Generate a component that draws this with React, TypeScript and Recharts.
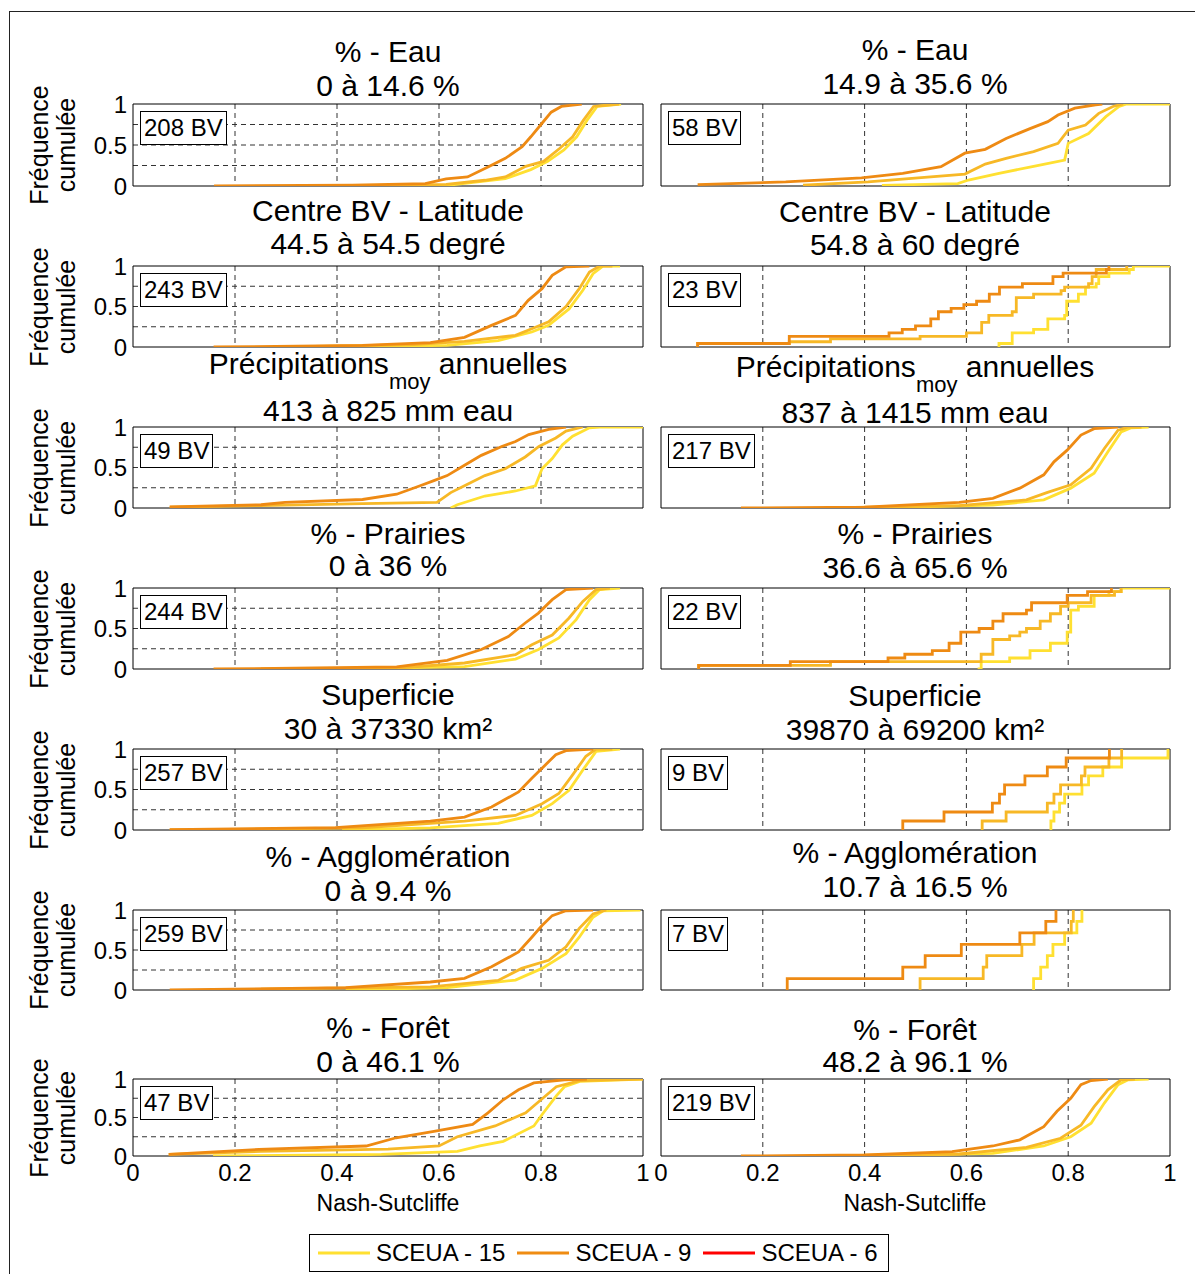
import React from "react";
import { LineChart, Line, XAxis, YAxis, CartesianGrid, ReferenceArea } from "recharts";

type Pt = [number, number];

// [Nash-Sutcliffe, fréquence cumulée]
// % - Eau
const eauA15: Pt[] = [[0.5, 0], [0.62, 0.01], [0.73, 0.09], [0.78, 0.2], [0.813, 0.3], [0.845, 0.44], [0.87, 0.6], [0.89, 0.8], [0.91, 0.97], [0.957, 1]];
const eauA9: Pt[] = [[0.43, 0], [0.614, 0.02], [0.69, 0.07], [0.73, 0.11], [0.77, 0.24], [0.805, 0.3], [0.837, 0.46], [0.862, 0.6], [0.883, 0.8], [0.903, 0.97], [0.953, 1]];
const eauA6: Pt[] = [[0.159, 0], [0.43, 0.01], [0.573, 0.03], [0.614, 0.086], [0.656, 0.11], [0.697, 0.236], [0.73, 0.337], [0.763, 0.48], [0.78, 0.6], [0.8, 0.75], [0.82, 0.9], [0.84, 0.97], [0.88, 1]];
const eauB15: Pt[] = [[0.434, 0.008], [0.583, 0.03], [0.604, 0.073], [0.664, 0.155], [0.732, 0.24], [0.793, 0.317], [0.8, 0.52], [0.84, 0.64], [0.874, 0.846], [0.9, 0.97], [0.915, 1], [1, 1]];
const eauB9: Pt[] = [[0.279, 0.01], [0.407, 0.05], [0.597, 0.146], [0.637, 0.268], [0.678, 0.337], [0.732, 0.42], [0.78, 0.52], [0.8, 0.68], [0.834, 0.744], [0.86, 0.886], [0.888, 0.97], [0.908, 1]];
const eauB6: Pt[] = [[0.072, 0.017], [0.245, 0.05], [0.394, 0.1], [0.475, 0.155], [0.55, 0.236], [0.597, 0.4], [0.637, 0.447], [0.678, 0.58], [0.725, 0.7], [0.76, 0.785], [0.78, 0.866], [0.813, 0.95], [0.854, 0.99], [0.867, 1]];

// Centre BV - Latitude
const latA15: Pt[] = [[0.384, 0], [0.616, 0.02], [0.716, 0.08], [0.782, 0.185], [0.815, 0.267], [0.855, 0.47], [0.882, 0.7], [0.902, 0.905], [0.922, 1], [0.955, 1]];
const latA9: Pt[] = [[0.3, 0], [0.55, 0.03], [0.65, 0.07], [0.75, 0.144], [0.782, 0.226], [0.815, 0.31], [0.849, 0.5], [0.875, 0.72], [0.895, 0.926], [0.915, 1], [0.94, 1]];
const latA6: Pt[] = [[0.158, 0], [0.45, 0.02], [0.583, 0.053], [0.65, 0.12], [0.703, 0.267], [0.75, 0.39], [0.775, 0.576], [0.802, 0.72], [0.822, 0.885], [0.849, 0.99], [0.895, 1]];
const latB15: Pt[] = [[0.664, 0], [0.664, 0.043], [0.69, 0.174], [0.732, 0.217], [0.76, 0.348], [0.793, 0.391], [0.797, 0.565], [0.82, 0.652], [0.834, 0.739], [0.855, 0.783], [0.86, 0.87], [0.88, 0.913], [0.92, 0.957], [0.928, 1], [1, 1]];
const latB9: Pt[] = [[0.072, 0], [0.072, 0.043], [0.252, 0.065], [0.333, 0.1], [0.509, 0.13], [0.6, 0.174], [0.63, 0.304], [0.644, 0.391], [0.69, 0.435], [0.698, 0.609], [0.732, 0.652], [0.786, 0.696], [0.793, 0.739], [0.84, 0.783], [0.847, 0.87], [0.855, 0.957], [0.915, 1]];
const latB6: Pt[] = [[0.072, 0], [0.072, 0.043], [0.252, 0.13], [0.448, 0.174], [0.474, 0.217], [0.5, 0.261], [0.53, 0.348], [0.545, 0.435], [0.57, 0.478], [0.595, 0.522], [0.62, 0.565], [0.645, 0.652], [0.665, 0.739], [0.71, 0.783], [0.77, 0.87], [0.79, 0.913], [0.875, 0.957], [0.88, 1]];

// Précipitations moy annuelles
const precA15: Pt[] = [[0.623, 0], [0.636, 0.04], [0.69, 0.148], [0.75, 0.21], [0.789, 0.274], [0.802, 0.485], [0.822, 0.61], [0.842, 0.78], [0.862, 0.886], [0.895, 0.99], [0.915, 1], [1, 1]];
const precA9: Pt[] = [[0.072, 0.01], [0.251, 0.03], [0.45, 0.055], [0.596, 0.07], [0.623, 0.19], [0.65, 0.274], [0.69, 0.4], [0.73, 0.485], [0.769, 0.63], [0.796, 0.76], [0.829, 0.865], [0.849, 0.95], [0.882, 1]];
const precA6: Pt[] = [[0.072, 0.013], [0.251, 0.04], [0.298, 0.07], [0.45, 0.105], [0.517, 0.17], [0.563, 0.274], [0.59, 0.338], [0.616, 0.4], [0.65, 0.527], [0.683, 0.65], [0.723, 0.76], [0.75, 0.82], [0.776, 0.907], [0.815, 0.97], [0.849, 1]];
const precB15: Pt[] = [[0.42, 0], [0.652, 0.037], [0.752, 0.1], [0.805, 0.245], [0.851, 0.43], [0.878, 0.694], [0.904, 0.94], [0.924, 0.99], [0.958, 1]];
const precB9: Pt[] = [[0.32, 0], [0.586, 0.03], [0.718, 0.1], [0.758, 0.19], [0.805, 0.286], [0.845, 0.49], [0.871, 0.735], [0.898, 0.96], [0.918, 1], [0.944, 1]];
const precB6: Pt[] = [[0.157, 0], [0.4, 0.01], [0.586, 0.07], [0.652, 0.12], [0.705, 0.245], [0.752, 0.41], [0.772, 0.57], [0.798, 0.714], [0.825, 0.9], [0.851, 0.98], [0.898, 1]];

// % - Prairies
const prairA15: Pt[] = [[0.417, 0], [0.65, 0.03], [0.75, 0.123], [0.795, 0.24], [0.835, 0.383], [0.869, 0.61], [0.895, 0.856], [0.915, 0.98], [0.955, 1]];
const prairA9: Pt[] = [[0.251, 0], [0.517, 0.01], [0.65, 0.074], [0.75, 0.177], [0.782, 0.3], [0.822, 0.42], [0.855, 0.63], [0.882, 0.835], [0.908, 0.98], [0.935, 1]];
const prairA6: Pt[] = [[0.158, 0], [0.517, 0.025], [0.616, 0.107], [0.683, 0.24], [0.736, 0.4], [0.769, 0.568], [0.795, 0.69], [0.822, 0.856], [0.849, 0.98], [0.902, 1]];
const prairB15: Pt[] = [[0.622, 0], [0.629, 0.091], [0.685, 0.136], [0.725, 0.227], [0.765, 0.318], [0.798, 0.455], [0.805, 0.727], [0.82, 0.773], [0.851, 0.909], [0.88, 0.955], [0.904, 1], [1, 1]];
const prairB9: Pt[] = [[0.074, 0], [0.074, 0.045], [0.333, 0.091], [0.629, 0.182], [0.652, 0.364], [0.685, 0.409], [0.705, 0.455], [0.718, 0.5], [0.745, 0.591], [0.765, 0.682], [0.785, 0.773], [0.8, 0.818], [0.845, 0.909], [0.891, 0.955], [0.904, 1]];
const prairB6: Pt[] = [[0.074, 0], [0.074, 0.045], [0.254, 0.091], [0.446, 0.136], [0.479, 0.182], [0.533, 0.227], [0.566, 0.318], [0.589, 0.455], [0.625, 0.5], [0.652, 0.591], [0.672, 0.682], [0.718, 0.727], [0.728, 0.818], [0.798, 0.909], [0.838, 0.955], [0.885, 1]];

// Superficie
const supA15: Pt[] = [[0.41, 0], [0.583, 0.025], [0.716, 0.083], [0.782, 0.18], [0.822, 0.325], [0.855, 0.49], [0.882, 0.74], [0.908, 0.97], [0.955, 1]];
const supA9: Pt[] = [[0.072, 0], [0.45, 0.025], [0.65, 0.11], [0.75, 0.18], [0.802, 0.325], [0.835, 0.45], [0.862, 0.68], [0.888, 0.91], [0.908, 1], [0.94, 1]];
const supA6: Pt[] = [[0.072, 0.005], [0.397, 0.03], [0.583, 0.11], [0.65, 0.16], [0.703, 0.283], [0.756, 0.47], [0.782, 0.64], [0.808, 0.8], [0.829, 0.93], [0.849, 0.98], [0.902, 1]];
const supB15: Pt[] = [[0.766, 0], [0.766, 0.111], [0.772, 0.222], [0.783, 0.333], [0.793, 0.444], [0.827, 0.556], [0.84, 0.667], [0.868, 0.778], [0.905, 0.889], [0.996, 1]];
const supB9: Pt[] = [[0.631, 0], [0.631, 0.111], [0.678, 0.222], [0.759, 0.333], [0.772, 0.444], [0.785, 0.556], [0.826, 0.667], [0.833, 0.778], [0.88, 0.889], [0.905, 1]];
const supB6: Pt[] = [[0.475, 0], [0.475, 0.111], [0.556, 0.222], [0.651, 0.333], [0.665, 0.444], [0.675, 0.556], [0.715, 0.667], [0.759, 0.778], [0.796, 0.889], [0.881, 1]];

// % - Agglomération
const agglA15: Pt[] = [[0.417, 0], [0.616, 0.03], [0.75, 0.124], [0.802, 0.27], [0.849, 0.455], [0.875, 0.66], [0.902, 0.91], [0.922, 0.99], [0.995, 1]];
const agglA9: Pt[] = [[0.251, 0.01], [0.583, 0.04], [0.716, 0.12], [0.762, 0.27], [0.815, 0.372], [0.849, 0.54], [0.875, 0.77], [0.902, 0.95], [0.928, 1]];
const agglA6: Pt[] = [[0.072, 0], [0.417, 0.03], [0.583, 0.1], [0.65, 0.145], [0.703, 0.29], [0.756, 0.475], [0.782, 0.66], [0.802, 0.806], [0.822, 0.93], [0.849, 0.99], [0.902, 1]];
const agglB15: Pt[] = [[0.732, 0], [0.732, 0.143], [0.746, 0.286], [0.759, 0.429], [0.77, 0.571], [0.793, 0.714], [0.817, 0.857], [0.827, 1]];
const agglB9: Pt[] = [[0.509, 0], [0.509, 0.143], [0.633, 0.286], [0.64, 0.429], [0.709, 0.571], [0.733, 0.714], [0.806, 0.857], [0.81, 1]];
const agglB6: Pt[] = [[0.248, 0], [0.248, 0.143], [0.475, 0.286], [0.519, 0.429], [0.59, 0.571], [0.705, 0.714], [0.756, 0.857], [0.776, 1]];

// % - Forêt
const foretA15: Pt[] = [[0.157, 0], [0.487, 0.02], [0.636, 0.06], [0.68, 0.13], [0.726, 0.19], [0.786, 0.39], [0.8, 0.52], [0.83, 0.78], [0.846, 0.9], [0.876, 0.97], [1, 1]];
const foretA9: Pt[] = [[0.07, 0.02], [0.25, 0.06], [0.5, 0.09], [0.6, 0.13], [0.636, 0.25], [0.71, 0.39], [0.77, 0.56], [0.8, 0.73], [0.83, 0.9], [0.876, 0.98], [0.936, 0.99], [1, 1]];
const foretA6: Pt[] = [[0.07, 0.02], [0.247, 0.086], [0.457, 0.13], [0.516, 0.237], [0.59, 0.32], [0.666, 0.41], [0.696, 0.56], [0.726, 0.73], [0.756, 0.86], [0.786, 0.95], [0.846, 0.99], [0.89, 1]];
const foretB15: Pt[] = [[0.42, 0], [0.652, 0.035], [0.752, 0.13], [0.805, 0.25], [0.845, 0.426], [0.871, 0.687], [0.898, 0.926], [0.918, 0.99], [0.958, 1]];
const foretB9: Pt[] = [[0.32, 0], [0.586, 0.026], [0.718, 0.113], [0.785, 0.23], [0.825, 0.4], [0.851, 0.64], [0.878, 0.86], [0.904, 0.99], [0.931, 1]];
const foretB6: Pt[] = [[0.157, 0], [0.4, 0.013], [0.572, 0.057], [0.652, 0.13], [0.705, 0.21], [0.752, 0.38], [0.778, 0.58], [0.805, 0.75], [0.825, 0.926], [0.845, 0.98], [0.878, 1]];

const titres = ["% - Eau", "Centre BV - Latitude", "Précipitations", "% - Prairies", "Superficie", "% - Agglomération", "% - Forêt"];
const classesA = ["0 à 14.6 %", "44.5 à 54.5 degré", "413 à 825 mm eau", "0 à 36 %", "30 à 37330 km²", "0 à 9.4 %", "0 à 46.1 %"];
const classesB = ["14.9 à 35.6 %", "54.8 à 60 degré", "837 à 1415 mm eau", "36.6 à 65.6 %", "39870 à 69200 km²", "10.7 à 16.5 %", "48.2 à 96.1 %"];
const nbA = [208, 243, 49, 244, 257, 259, 47];
const nbB = [58, 23, 217, 22, 9, 7, 219];
const ticksX = [0, 0.2, 0.4, 0.6, 0.8, 1];
const ticksY = [0, 0.25, 0.5, 0.75, 1];
const legende = ["SCEUA - 15", "SCEUA - 9", "SCEUA - 6"];

const colA: Pt[][][] = [
  [eauA15, eauA9, eauA6], [latA15, latA9, latA6], [precA15, precA9, precA6], [prairA15, prairA9, prairA6],
  [supA15, supA9, supA6], [agglA15, agglA9, agglA6], [foretA15, foretA9, foretA6],
];
const colB: Pt[][][] = [
  [eauB15, eauB9, eauB6], [latB15, latB9, latB6], [precB15, precB9, precB6], [prairB15, prairB9, prairB6],
  [supB15, supB9, supB6], [agglB15, agglB9, agglB6], [foretB15, foretB9, foretB6],
];

// mise en page
const FONT = '"Liberation Sans", Arial, sans-serif';
const lineColors = ["#FFE031", "#F7B826", "#EE8A13"];
const legendColors = ["#FFE031", "#EF8C12", "#FF0000"];
const rowTop = [104, 266, 427, 588, 749, 910, 1079];
const rowBot = [186, 347, 508, 669, 830, 990, 1156];
const titleA = [[52, 86], [211, 244], [364, 411], [534, 566], [695, 729], [857, 891], [1028, 1062]];
const titleB = [[50, 84], [212, 245], [367, 413], [534, 568], [696, 730], [853, 887], [1030, 1062]];
const cols = [
  { x: 133, w: 510, cx: 388 },
  { x: 661, w: 509, cx: 915 },
];
const ML = 70, MR = 14, MT = 20;

function Panel({ x, y, w, h, data, step, leftLabels, bottom }: {
  x: number; y: number; w: number; h: number; data: Pt[][]; step: boolean; leftLabels: boolean; bottom: boolean;
}) {
  const xh = bottom ? 34 : 0;
  return (
    <div style={{ position: "absolute", left: x - ML, top: y - MT }}>
      <LineChart width={ML + w + MR} height={MT + h + (bottom ? xh : 20)} margin={{ top: MT, right: MR, left: 0, bottom: bottom ? 0 : 20 }}>
        <CartesianGrid stroke="#333" strokeDasharray="5 4" verticalValues={[0.2, 0.4, 0.6, 0.8]} horizontalValues={[0.25, 0.5, 0.75]} />
        <XAxis type="number" dataKey="x" domain={[0, 1]} ticks={ticksX} interval={0} allowDataOverflow hide={!bottom} height={xh}
          tickLine={false} axisLine={false} tickSize={6} tickMargin={2}
          tick={{ fontSize: 24, fill: "#000", fontFamily: FONT }} tickFormatter={(v: number) => String(v)} />
        <YAxis type="number" domain={[0, 1]} ticks={ticksY} interval={0} width={ML} allowDataOverflow
          tickLine={false} axisLine={false} tickSize={4} tickMargin={2}
          tick={leftLabels ? { fontSize: 24, fill: "#000", fontFamily: FONT } : false}
          tickFormatter={(v: number) => (v === 0.25 || v === 0.75 ? "" : String(v))} />
        <ReferenceArea x1={0} x2={1} y1={0} y2={1} fill="none" stroke="#000" strokeWidth={1} ifOverflow="visible" />
        {data.map((s, i) => (
          <Line key={i} data={s.map(([a, b]) => ({ x: a, y: b }))} dataKey="y" type={step ? "stepAfter" : "linear"}
            stroke={lineColors[i]} strokeWidth={2.8} dot={false} isAnimationActive={false} />
        ))}
      </LineChart>
    </div>
  );
}

function Title({ cx, yc, fs, children }: { cx: number; yc: number; fs: number; children: React.ReactNode }) {
  return (
    <div style={{ position: "absolute", left: cx - 300, width: 600, top: yc - fs / 2, height: fs, lineHeight: `${fs}px`, fontSize: fs, textAlign: "center", whiteSpace: "nowrap" }}>
      {children}
    </div>
  );
}

export default function App() {
  const panels: React.ReactNode[] = [];
  for (let r = 0; r < 7; r++) {
    const top = rowTop[r];
    const h = rowBot[r] - rowTop[r];
    [0, 1].forEach((c) => {
      const col = cols[c];
      const t = c === 0 ? titleA[r] : titleB[r];
      const nb = c === 0 ? nbA[r] : nbB[r];
      const data = c === 0 ? colA[r] : colB[r];
      const step = nb < 40;
      panels.push(
        <React.Fragment key={`${r}-${c}`}>
          <Title cx={col.cx} yc={t[0]} fs={30}>
            {r === 2 ? (
              <>
                {titres[r]}
                <span style={{ fontSize: 22, position: "relative", top: 15 }}>moy</span> annuelles
              </>
            ) : titres[r]}
          </Title>
          <Title cx={col.cx} yc={t[1]} fs={30}>{c === 0 ? classesA[r] : classesB[r]}</Title>
          <Panel x={col.x} y={top} w={col.w} h={h} data={data} step={step} leftLabels={c === 0} bottom={r === 6} />
          <div style={{ position: "absolute", left: col.x + 7, top: top + 7, height: 32, lineHeight: "32px", padding: "0 3px", border: "1px solid #000", background: "#fff", fontSize: 24, whiteSpace: "nowrap" }}>
            {nb} BV
          </div>
        </React.Fragment>
      );
    });
    const cy = (rowTop[r] + rowBot[r]) / 2;
    panels.push(
      <div key={`yl-${r}`} style={{ position: "absolute", left: 54 - 80, top: cy - 28, width: 160, height: 56, lineHeight: "27px", fontSize: 25, textAlign: "center", transform: "rotate(-90deg)", whiteSpace: "nowrap" }}>
        Fréquence<br />cumulée
      </div>
    );
  }

  return (
    <div style={{ position: "absolute", left: 0, top: 0, width: 1195, height: 1274, background: "#fff", fontFamily: FONT, color: "#000", overflow: "hidden" }}>
      <div style={{ position: "absolute", left: 9, top: 11, width: 1200, height: 1280, borderLeft: "1px solid #222", borderTop: "1px solid #222" }} />
      {panels}
      {cols.map((col, i) => (
        <div key={`ns-${i}`} style={{ position: "absolute", left: col.cx - 150, width: 300, top: 1191, height: 24, lineHeight: "24px", fontSize: 23, textAlign: "center" }}>
          Nash-Sutcliffe
        </div>
      ))}
      <div style={{ position: "absolute", left: 309, top: 1234, width: 570, height: 36, border: "1px solid #000", background: "#fff", display: "flex", alignItems: "center", paddingLeft: 8, boxSizing: "content-box" }}>
        {legende.map((name, i) => (
          <div key={name} style={{ display: "flex", alignItems: "center", marginRight: 12 }}>
            <svg width={52} height={6} style={{ marginRight: 6 }}>
              <line x1={0} y1={3} x2={52} y2={3} stroke={legendColors[i]} strokeWidth={3} />
            </svg>
            <span style={{ fontSize: 24, whiteSpace: "nowrap" }}>{name}</span>
          </div>
        ))}
      </div>
    </div>
  );
}
